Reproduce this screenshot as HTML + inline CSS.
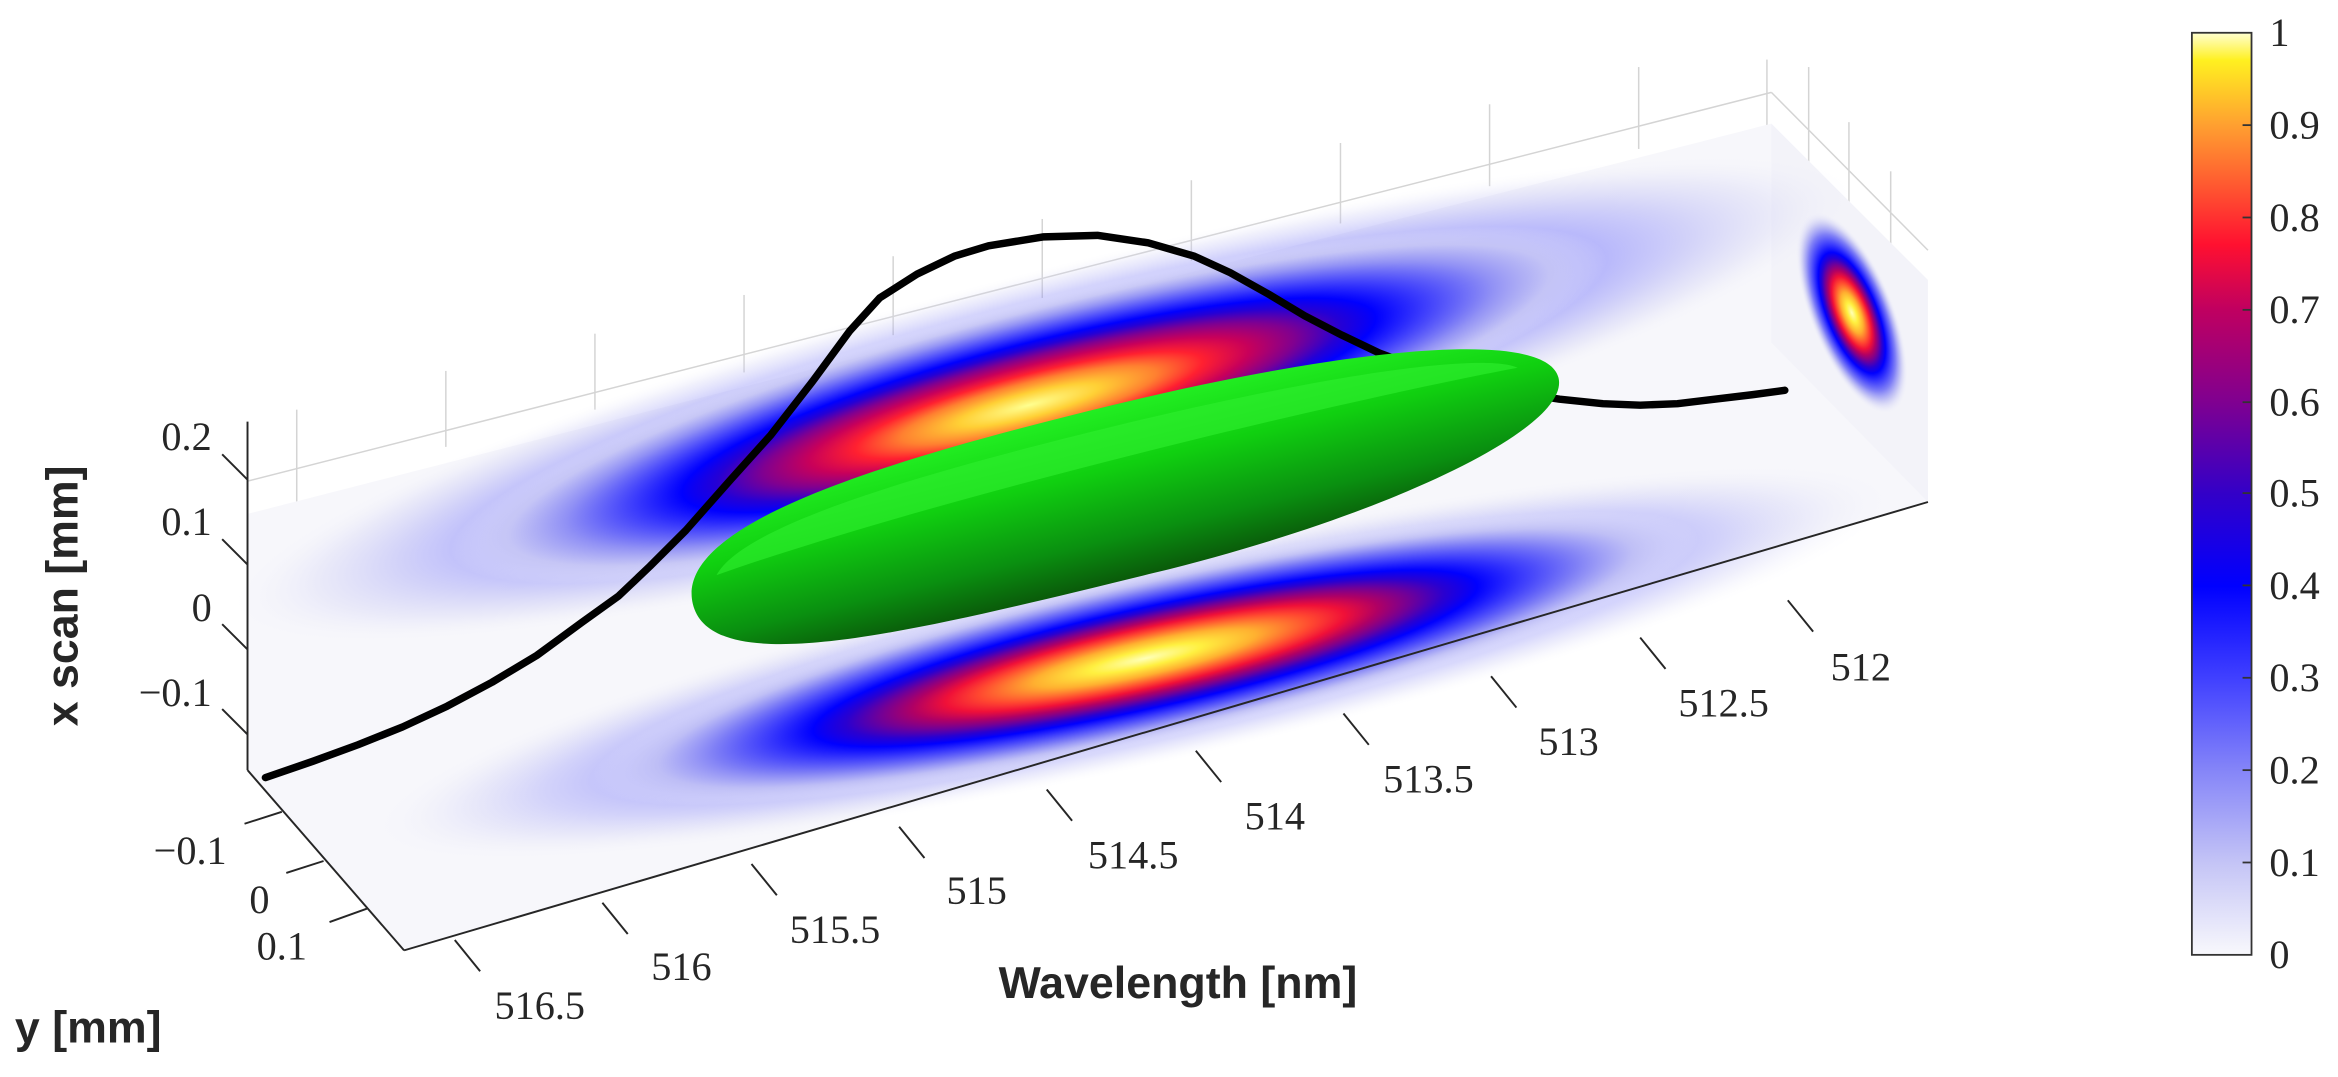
<!DOCTYPE html>
<html><head><meta charset="utf-8"><style>
html,body{margin:0;padding:0;background:#fff;}
svg{display:block;}
.t{font-family:"Liberation Serif",serif;font-size:27px;fill:#262626;}
.l{font-family:"Liberation Sans",sans-serif;font-weight:bold;font-size:30px;fill:#262626;}
</style></head><body>
<svg width="2338" height="1077" viewBox="0 0 1568 723" preserveAspectRatio="none" xmlns="http://www.w3.org/2000/svg">
<defs>
<radialGradient id="cm" cx="0.5" cy="0.5" r="0.5">
<stop offset="0" stop-color="#ffffb8"/>
<stop offset="0.1" stop-color="#fff040"/>
<stop offset="0.2" stop-color="#ffb030"/>
<stop offset="0.3" stop-color="#ff4830"/>
<stop offset="0.36" stop-color="#f01038"/>
<stop offset="0.42" stop-color="#b00064"/>
<stop offset="0.48" stop-color="#700098"/>
<stop offset="0.54" stop-color="#2a00d0"/>
<stop offset="0.6" stop-color="#0000ff"/>
<stop offset="0.68" stop-color="#3a3afc"/>
<stop offset="0.78" stop-color="#8080f6"/>
<stop offset="0.88" stop-color="#c0c0f4" stop-opacity="0.8"/>
<stop offset="1" stop-color="#f0f0fa" stop-opacity="0"/>
</radialGradient>
<radialGradient id="cm2" cx="0.5" cy="0.5" r="0.5">
<stop offset="0" stop-color="#ffff90"/>
<stop offset="0.12" stop-color="#ffd035"/>
<stop offset="0.22" stop-color="#ff8030"/>
<stop offset="0.3" stop-color="#ff2030"/>
<stop offset="0.38" stop-color="#c8005a"/>
<stop offset="0.46" stop-color="#800090"/>
<stop offset="0.54" stop-color="#2500d5"/>
<stop offset="0.6" stop-color="#0000ff"/>
<stop offset="0.7" stop-color="#4848fb"/>
<stop offset="0.8" stop-color="#9090f5"/>
<stop offset="0.9" stop-color="#cacaf4" stop-opacity="0.8"/>
<stop offset="1" stop-color="#f0f0fa" stop-opacity="0"/>
</radialGradient>
<linearGradient id="gr" x1="0" y1="0" x2="0" y2="1">
<stop offset="0" stop-color="#22ee22"/>
<stop offset="0.35" stop-color="#10d010"/>
<stop offset="0.75" stop-color="#0a9010"/>
<stop offset="1" stop-color="#0a5a0a"/>
</linearGradient>
<linearGradient id="cb" x1="0" y1="1" x2="0" y2="0">
<stop offset="0" stop-color="#f8f8fc"/>
<stop offset="0.1" stop-color="#c4c4f6"/>
<stop offset="0.2" stop-color="#8585f8"/>
<stop offset="0.3" stop-color="#4040ff"/>
<stop offset="0.4" stop-color="#0000ff"/>
<stop offset="0.5" stop-color="#3300c8"/>
<stop offset="0.6" stop-color="#800090"/>
<stop offset="0.7" stop-color="#c00060"/>
<stop offset="0.77" stop-color="#ff1030"/>
<stop offset="0.85" stop-color="#ff6a30"/>
<stop offset="0.9" stop-color="#ffa030"/>
<stop offset="0.97" stop-color="#fff020"/>
<stop offset="1" stop-color="#ffffd0"/>
</linearGradient>
</defs>

<g stroke="#d4d4d4" stroke-width="1" fill="none">
<line x1="166" y1="323" x2="1188" y2="62"/>
<line x1="1188" y1="62" x2="1293" y2="168"/>
<line x1="199" y1="275" x2="199" y2="337"/>
<line x1="299" y1="249" x2="299" y2="300"/>
<line x1="399" y1="224" x2="399" y2="275"/>
<line x1="499" y1="198" x2="499" y2="250"/>
<line x1="599" y1="172" x2="599" y2="225"/>
<line x1="699" y1="147" x2="699" y2="200"/>
<line x1="799" y1="121" x2="799" y2="175"/>
<line x1="899" y1="96" x2="899" y2="150"/>
<line x1="999" y1="70" x2="999" y2="125"/>
<line x1="1099" y1="45" x2="1099" y2="100"/>
<line x1="1185" y1="40" x2="1185" y2="85"/>
<line x1="1213" y1="45" x2="1213" y2="113"/>
<line x1="1240" y1="82" x2="1240" y2="152"/>
<line x1="1268" y1="115" x2="1268" y2="180"/>
</g>

<polygon points="166,345 1188,83 1293,188 1293,337 271,638 166,517" fill="#f7f7fb"/>
<polygon points="1188,83 1293,188 1293,337 1188,230" fill="#f3f3f9"/>

<!-- back blob: faint long halo + core -->
<ellipse cx="700" cy="268" rx="560" ry="85" fill="url(#cm2)" opacity="0.35" transform="rotate(-14.5 700 268)"/>
<ellipse cx="690" cy="272" rx="400" ry="68" fill="url(#cm2)" transform="rotate(-14.5 690 272)"/>
<!-- floor blob -->
<ellipse cx="760" cy="445" rx="520" ry="70" fill="url(#cm)" opacity="0.3" transform="rotate(-12.5 760 445)"/>
<ellipse cx="768" cy="442" rx="380" ry="56" fill="url(#cm)" transform="rotate(-12.5 768 442)"/>
<!-- side blob -->
<ellipse cx="1242" cy="210" rx="28" ry="72" fill="url(#cm)" transform="rotate(-22 1242 210)"/>

<polyline fill="none" stroke="#000" stroke-width="5" stroke-linejoin="round" stroke-linecap="round"
points="178,522 210,511 240,500 270,488 300,474 330,458 360,440 390,418 415,400 436,380 460,356 490,322 517,292 545,256 570,222 590,200 615,184 640,172 663,165 700,159 736,158 770,163 801,172 825,183 850,197 875,212 900,225 925,237 944,244 970,252 990,258 1020,264 1046,268 1075,271 1100,272 1125,271 1150,268 1175,265 1197,262"/>

<!-- green ellipsoid (egg shape, blunt left end) -->
<g transform="rotate(-13.7 753 330)">
<path d="M455,335 C455,280 600,272 760,272 C920,272 1055,290 1055,325 C1055,360 920,388 760,388 C600,388 455,390 455,335 Z" fill="url(#gr)"/>
<path d="M475,320 C500,292 620,286 760,286 C900,286 1010,296 1030,312 C900,305 620,305 475,320 Z" fill="#30f030" opacity="0.6"/>
</g>

<g stroke="#262626" stroke-width="1.3" fill="none">
<line x1="166" y1="283" x2="166" y2="517"/>
<line x1="166" y1="517" x2="271" y2="638"/>
<line x1="271" y1="638" x2="1293" y2="337"/>
<line x1="166" y1="322" x2="149" y2="305"/>
<line x1="166" y1="379" x2="149" y2="362"/>
<line x1="166" y1="436" x2="149" y2="419"/>
<line x1="166" y1="493" x2="149" y2="476"/>
<line x1="189" y1="545" x2="164" y2="553"/>
<line x1="217" y1="578" x2="192" y2="586"/>
<line x1="246" y1="610" x2="221" y2="619"/>
<line x1="305" y1="631" x2="322" y2="652"/>
<line x1="404" y1="606" x2="421" y2="627"/>
<line x1="504" y1="580" x2="521" y2="601"/>
<line x1="603" y1="555" x2="620" y2="576"/>
<line x1="702" y1="530" x2="719" y2="551"/>
<line x1="802" y1="504" x2="819" y2="525"/>
<line x1="901" y1="479" x2="918" y2="500"/>
<line x1="1000" y1="454" x2="1017" y2="475"/>
<line x1="1100" y1="428" x2="1117" y2="449"/>
<line x1="1199" y1="403" x2="1216" y2="424"/>
</g>

<g class="t">
<text x="142" y="302" text-anchor="end">0.2</text>
<text x="142" y="359" text-anchor="end">0.1</text>
<text x="142" y="417" text-anchor="end">0</text>
<text x="142" y="474" text-anchor="end">−0.1</text>
<text x="152" y="580" text-anchor="end">−0.1</text>
<text x="174" y="613" text-anchor="middle">0</text>
<text x="189" y="644" text-anchor="middle">0.1</text>
<text x="362" y="684" text-anchor="middle">516.5</text>
<text x="457" y="658" text-anchor="middle">516</text>
<text x="560" y="633" text-anchor="middle">515.5</text>
<text x="655" y="607" text-anchor="middle">515</text>
<text x="760" y="583" text-anchor="middle">514.5</text>
<text x="855" y="557" text-anchor="middle">514</text>
<text x="958" y="532" text-anchor="middle">513.5</text>
<text x="1052" y="507" text-anchor="middle">513</text>
<text x="1156" y="481" text-anchor="middle">512.5</text>
<text x="1248" y="457" text-anchor="middle">512</text>
</g>

<text class="l" x="790" y="670" text-anchor="middle">Wavelength [nm]</text>
<text class="l" x="10" y="700">y [mm]</text>
<text class="l" transform="translate(52 400) rotate(-90)" text-anchor="middle">x scan [mm]</text>

<rect x="1470" y="22" width="40" height="619" fill="url(#cb)" stroke="#333" stroke-width="1.2"/>
<g stroke="#333" stroke-width="1.2">
<line x1="1504" y1="84" x2="1510" y2="84"/>
<line x1="1504" y1="146" x2="1510" y2="146"/>
<line x1="1504" y1="208" x2="1510" y2="208"/>
<line x1="1504" y1="270" x2="1510" y2="270"/>
<line x1="1504" y1="331" x2="1510" y2="331"/>
<line x1="1504" y1="393" x2="1510" y2="393"/>
<line x1="1504" y1="455" x2="1510" y2="455"/>
<line x1="1504" y1="517" x2="1510" y2="517"/>
<line x1="1504" y1="579" x2="1510" y2="579"/>
</g>
<g class="t">
<text x="1522" y="31">1</text>
<text x="1522" y="93">0.9</text>
<text x="1522" y="155">0.8</text>
<text x="1522" y="217">0.7</text>
<text x="1522" y="279">0.6</text>
<text x="1522" y="340">0.5</text>
<text x="1522" y="402">0.4</text>
<text x="1522" y="464">0.3</text>
<text x="1522" y="526">0.2</text>
<text x="1522" y="588">0.1</text>
<text x="1522" y="650">0</text>
</g>
</svg>
</body></html>
